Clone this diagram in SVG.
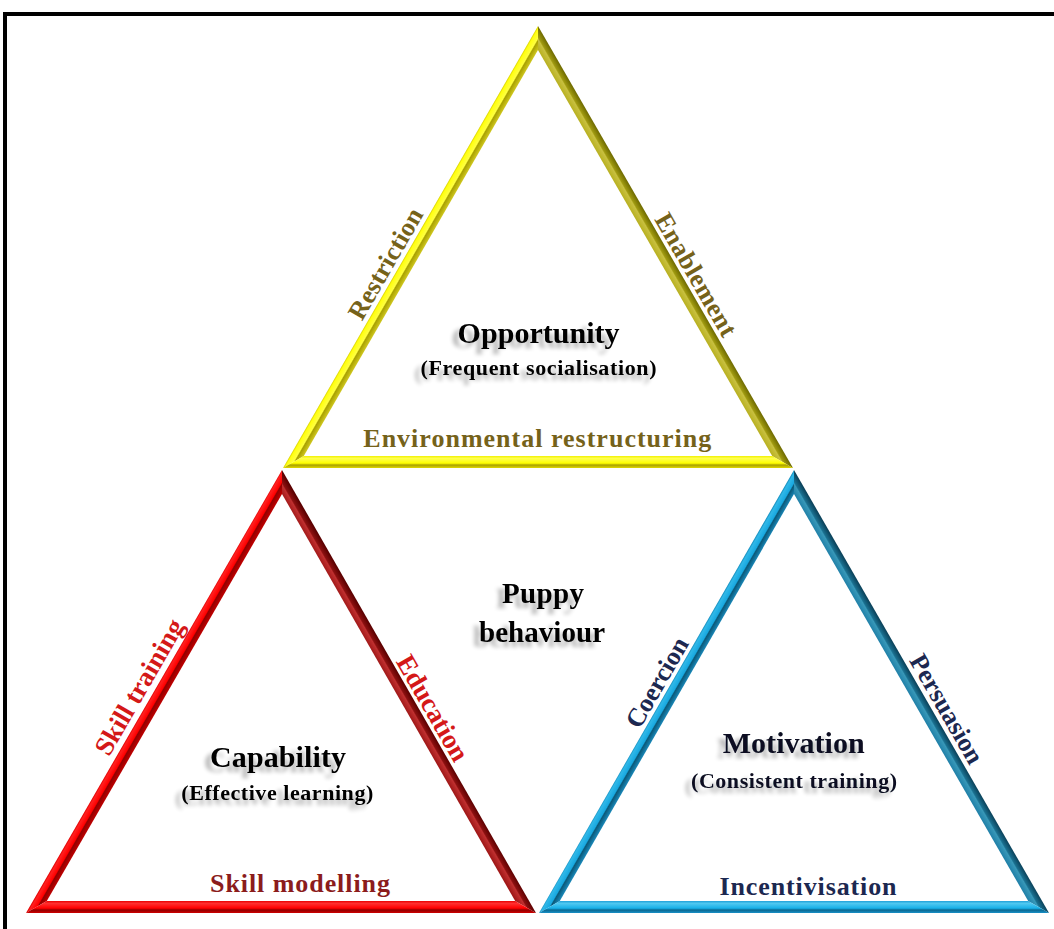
<svg xmlns="http://www.w3.org/2000/svg" width="1054" height="929" viewBox="0 0 1054 929">
<style>
text{font-family:"Liberation Serif","Times New Roman",serif;font-weight:bold;text-anchor:middle}
.main{font-size:30px;fill:#000;filter:url(#sh)}
.sub{font-size:22px;fill:#000;filter:url(#sh)}
.ol{font-size:26px;fill:#75621a}
.rd{font-size:27px;fill:#d41818}
.mr{font-size:26px;fill:#8b1c1c}
.nv{font-size:26px;fill:#1c2850}
</style>
<defs>
<filter id="sh" x="-20%" y="-40%" width="140%" height="200%">
<feGaussianBlur in="SourceAlpha" stdDeviation="2" result="b"/>
<feOffset in="b" dx="-6" dy="5" result="o"/>
<feComponentTransfer in="o" result="s"><feFuncA type="linear" slope="0.3"/></feComponentTransfer>
<feMerge><feMergeNode in="s"/><feMergeNode in="SourceGraphic"/></feMerge>
</filter>
<linearGradient id="yL" gradientUnits="userSpaceOnUse" x1="410.5" y1="247" x2="420.9" y2="253">
<stop offset="0" stop-color="#d8d000"/><stop offset="0.12" stop-color="#ffff10"/><stop offset="0.5" stop-color="#ffff40"/><stop offset="0.6" stop-color="#a8a000"/><stop offset="1" stop-color="#d0c820"/></linearGradient>
<linearGradient id="yR" gradientUnits="userSpaceOnUse" x1="665.5" y1="247" x2="655.1" y2="253">
<stop offset="0" stop-color="#6e6a00"/><stop offset="0.45" stop-color="#a09a10"/><stop offset="0.55" stop-color="#c8c040"/><stop offset="1" stop-color="#b8b020"/></linearGradient>
<linearGradient id="yB" gradientUnits="userSpaceOnUse" x1="538" y1="468" x2="538" y2="456">
<stop offset="0" stop-color="#e0d800"/><stop offset="0.25" stop-color="#a8a000"/><stop offset="0.4" stop-color="#ffff00"/><stop offset="0.8" stop-color="#ffff50"/><stop offset="1" stop-color="#f0f000"/></linearGradient>
<linearGradient id="rL" gradientUnits="userSpaceOnUse" x1="154" y1="691.5" x2="164.4" y2="697.5">
<stop offset="0" stop-color="#e00000"/><stop offset="0.12" stop-color="#ff2020"/><stop offset="0.5" stop-color="#ff0000"/><stop offset="0.6" stop-color="#900000"/><stop offset="1" stop-color="#c00000"/></linearGradient>
<linearGradient id="rR" gradientUnits="userSpaceOnUse" x1="409" y1="691.5" x2="398.6" y2="697.5">
<stop offset="0" stop-color="#5a0000"/><stop offset="0.45" stop-color="#8c1010"/><stop offset="0.55" stop-color="#c03030"/><stop offset="1" stop-color="#a01818"/></linearGradient>
<linearGradient id="rB" gradientUnits="userSpaceOnUse" x1="281" y1="913" x2="281" y2="901">
<stop offset="0" stop-color="#d00000"/><stop offset="0.25" stop-color="#900000"/><stop offset="0.4" stop-color="#ff0000"/><stop offset="0.8" stop-color="#ff3030"/><stop offset="1" stop-color="#e80000"/></linearGradient>
<linearGradient id="bL" gradientUnits="userSpaceOnUse" x1="666.5" y1="691.5" x2="676.9" y2="697.5">
<stop offset="0" stop-color="#1890c0"/><stop offset="0.12" stop-color="#30b8e8"/><stop offset="0.5" stop-color="#18a8e0"/><stop offset="0.6" stop-color="#0a5878"/><stop offset="1" stop-color="#1a88b8"/></linearGradient>
<linearGradient id="bR" gradientUnits="userSpaceOnUse" x1="921.5" y1="691.5" x2="911.1" y2="697.5">
<stop offset="0" stop-color="#0a4058"/><stop offset="0.45" stop-color="#1a7090"/><stop offset="0.55" stop-color="#3898b8"/><stop offset="1" stop-color="#2080a8"/></linearGradient>
<linearGradient id="bB" gradientUnits="userSpaceOnUse" x1="794" y1="913" x2="794" y2="901">
<stop offset="0" stop-color="#1890c8"/><stop offset="0.25" stop-color="#0a6890"/><stop offset="0.4" stop-color="#18b0e8"/><stop offset="0.8" stop-color="#50c8f0"/><stop offset="1" stop-color="#20a0d8"/></linearGradient>
</defs>

<rect x="0" y="0" width="1054" height="929" fill="#fff"/>
<g id="frame">
<rect x="5" y="14" width="1100" height="1000" fill="none" stroke="#000" stroke-width="4"/>
</g>

<g id="opportunity">
<polygon points="283,468 538,26 538,50 303.8,456" fill="url(#yL)"/>
<polygon points="538,26 793,468 772.2,456 538,50" fill="url(#yR)"/>
<polygon points="283,468 793,468 772.2,456 303.8,456" fill="url(#yB)"/>
<text class="main" x="538.6" y="343" textLength="162" lengthAdjust="spacing">Opportunity</text>
<text class="sub" x="538.5" y="375" textLength="236" lengthAdjust="spacing">(Frequent socialisation)</text>
<text class="ol" x="537.3" y="446.5" textLength="348" lengthAdjust="spacing">Environmental restructuring</text>
<text class="ol" x="393" y="268" transform="rotate(-60 393 268)" textLength="124" lengthAdjust="spacing">Restriction</text>
<text class="ol" x="688.5" y="279" transform="rotate(60 688.5 279)" textLength="138" lengthAdjust="spacing">Enablement</text>
</g>

<g id="capability">
<polygon points="26,913 282,470 282,494 46.8,901" fill="url(#rL)"/>
<polygon points="282,470 536,913 515.2,901 282,494" fill="url(#rR)"/>
<polygon points="26,913 536,913 515.2,901 46.8,901" fill="url(#rB)"/>
<text class="main" x="278" y="767" textLength="136" lengthAdjust="spacing">Capability</text>
<text class="sub" x="277.3" y="800" textLength="192" lengthAdjust="spacing">(Effective learning)</text>
<text class="mr" x="300" y="891.5" textLength="180" lengthAdjust="spacing">Skill modelling</text>
<text class="rd" x="147" y="691.4" transform="rotate(-60 147 691.4)" textLength="152" lengthAdjust="spacing">Skill training</text>
<text class="rd" x="425" y="712.5" transform="rotate(60 425 712.5)" textLength="118" lengthAdjust="spacing">Education</text>
</g>

<g id="motivation">
<polygon points="539,913 794,470 794,494 559.8,901" fill="url(#bL)"/>
<polygon points="794,470 1049,913 1028.2,901 794,494" fill="url(#bR)"/>
<polygon points="539,913 1049,913 1028.2,901 559.8,901" fill="url(#bB)"/>
<text class="main" x="793.7" y="753.3" textLength="142" lengthAdjust="spacing" style="fill:#0a0f20">Motivation</text>
<text class="sub" x="794" y="788.3" textLength="206" lengthAdjust="spacing" style="fill:#0a0f20">(Consistent training)</text>
<text class="nv" x="808" y="895" textLength="177" lengthAdjust="spacing">Incentivisation</text>
<text class="nv" x="664.4" y="686.8" transform="rotate(-60 664.4 686.8)" textLength="100" lengthAdjust="spacing">Coercion</text>
<text class="nv" x="939.3" y="713.3" transform="rotate(60 939.3 713.3)" textLength="122" lengthAdjust="spacing">Persuasion</text>
</g>

<g id="puppy-behaviour">
<text class="main" x="543" y="603" style="font-size:29px" textLength="82" lengthAdjust="spacing">Puppy</text>
<text class="main" x="542" y="641.5" style="font-size:29px" textLength="126" lengthAdjust="spacing">behaviour</text>
</g>
</svg>
